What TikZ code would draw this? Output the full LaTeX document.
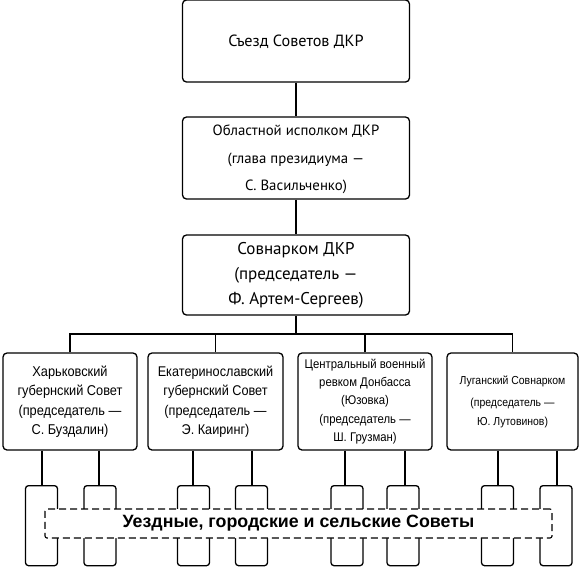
\documentclass[tikz,border=0pt]{standalone}
\usepackage{fontspec}
\setmainfont{PT Sans}
\newfontfamily\narrowfont[FakeStretch=0.9]{Liberation Sans}
\newfontfamily\baseboxfont{Liberation Sans}
\usetikzlibrary{positioning,calc}

\begin{document}
\begin{tikzpicture}[
  x=1pt, y=-1pt,
  topbox/.style={draw, line width=1.3pt, rounded corners=4pt, align=center, minimum width=227pt, minimum height=#1, inner sep=2pt},
  topbox/.default=82pt,
  govbox/.style={draw, line width=1.3pt, rounded corners=4pt, align=center, minimum width=134pt, minimum height=97pt, inner sep=1pt},
  localbox/.style={draw, line width=1.3pt, rounded corners=3pt, minimum width=32pt, minimum height=80pt, anchor=north, inner sep=0pt},
  link/.style={line width=1.2pt}
]
\useasboundingbox (0,0) rectangle (581,566);

% upper chain
\node[topbox, font=\fontsize{16.2}{27}\selectfont, text depth=-3pt] (congress) at (296,41) {Съезд Советов ДКР};
\node[topbox, font=\fontsize{14.8}{27.5}\selectfont, text depth=-6pt] (ispolkom) at (296,158)
  {Областной исполком ДКР\\ (глава президиума —\\ С. Васильченко)};
\node[topbox=80pt, font=\fontsize{17}{25}\selectfont] (sovnarkom) at (296,275)
  {Совнарком ДКР\\ (председатель —\\ Ф. Артем-Сергеев)};
\coordinate (bus) at (296,334);

\draw[link] (congress) -- (ispolkom);
\draw[link] (ispolkom) -- (sovnarkom);
\draw[link] (sovnarkom) -- (bus);

% regional councils
\node[govbox, font=\narrowfont\fontsize{14.2}{19.5}\selectfont] (kharkov) at (70,401.5)
  {Харьковский\\ губернский Совет\\ (председатель —\\ С. Буздалин)};
\node[govbox, minimum width=135pt, font=\narrowfont\fontsize{14.1}{19.5}\selectfont] (ekat) at (215.5,401.5)
  {Екатеринославский\\ губернский Совет\\ (председатель —\\ Э. Каиринг)};
\node[govbox, font=\narrowfont\fontsize{12.6}{18}\selectfont] (donbass) at (365,401.5)
  {Центральный военный\\ ревком Донбасса\\ (Юзовка)\\[1pt] (председатель —\\ Ш. Грузман)};
\node[govbox, minimum width=131pt, font=\narrowfont\fontsize{11.6}{19}\selectfont] (lugansk) at (512.5,401.5)
  {Луганский Совнарком\\[3pt] (председатель —\\ Ю. Лутовинов)};

\draw[link] (kharkov) |- (bus) -| (lugansk);
\draw[link] (ekat) -- (ekat |- bus);
\draw[link] (donbass) -- (donbass |- bus);

% local soviets
\foreach \name/\x/\from/\lx in {s1/41.5/kharkov/42, s2/100/kharkov/99,
    s3/193.5/ekat/193, s4/251.5/ekat/252, s5/347/donbass/345,
    s6/403/donbass/405, s7/497.5/lugansk/498, s8/556/lugansk/557}{
  \node[localbox] (\name) at (\x,485) {};
  \draw[link] (\from.south -| \lx,0) -- (\name.north -| \lx,0);
}

\node[draw, line width=1.1pt, dash pattern=on 7pt off 4pt, rounded corners=2pt, fill=white,
  minimum width=507pt, minimum height=29pt, font=\baseboxfont\bfseries\fontsize{17.8}{19}\selectfont]
  (local) at (298.5,523.5) {Уездные, городские и сельские Советы};
\end{tikzpicture}
\end{document}
